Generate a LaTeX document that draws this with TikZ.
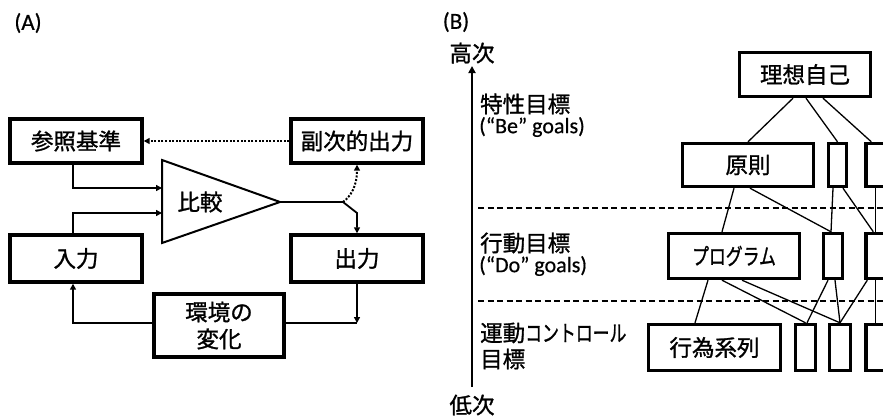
\documentclass[tikz,border=0pt]{standalone}
\usepackage{fontspec}
\setmainfont{Carlito}[AutoFakeBold=0.6]
\newfontfamily\jp{Noto Sans CJK JP}[AutoFakeBold=1.2]
\newcommand\narrowkana[1]{\scalebox{0.75}[1]{#1}}
\usetikzlibrary{arrows.meta,calc}
\begin{document}
\begin{tikzpicture}[x=1pt,y=-1pt,
  box/.style={draw, line width=3.4pt, rectangle, inner sep=0pt, align=center,
    font=\jp\bfseries\fontsize{22.5}{27}\selectfont},
  conn/.style={line width=1.8pt},
  tipA/.style={-{Triangle[length=6pt,width=6pt]}},
  dotline/.style={line width=2pt, dash pattern=on 2pt off 1.6pt},
  thinl/.style={line width=1.3pt},
  dashl/.style={line width=1.3pt, dash pattern=on 6pt off 3.5pt},
  jlbl/.style={font=\jp\bfseries\fontsize{22.5}{25}\selectfont, inner sep=0pt},
  llbl/.style={font=\bfseries\fontsize{22}{25}\selectfont, inner sep=0pt},
  ]
\useasboundingbox (0,0) rectangle (883,415);
\clip (0,0) rectangle (883,415);

% ---------- Panel A ----------
\node[llbl, font=\bfseries\fontsize{23}{25}\selectfont] (la) at (28,23) {(A)};
\node[box, minimum width=132pt, minimum height=44pt] (ref) at (76,141) {参照基準};
\node[box, minimum width=132pt, minimum height=44pt] (sub) at (357,141) {副次的出力};
\node[box, minimum width=132pt, minimum height=47pt] (inp) at (76,258.5) {入力};
\node[box, minimum width=132pt, minimum height=47pt] (out) at (357,258.5) {出力};
\node[box, minimum width=130pt, minimum height=63pt] (env) at (219,325.5) {環境の\\変化};

\draw[line width=2pt, line join=miter] (162,160) coordinate (tl) -- (280,202) coordinate (tip)
  -- (162,243) coordinate (bl) -- cycle;
\node[jlbl] (cmp) at (200,202) {比較};

\coordinate (in1) at (162,188);
\coordinate (in2) at (162,213);
\coordinate (br) at (343,202);
\coordinate (bend) at (357,213);
\coordinate (j) at (357,323);

\draw[conn,tipA] ([xshift=-3pt]ref.south) |- (in1);
\draw[conn,tipA] ([xshift=-3pt]inp.north) |- (in2);
\draw[conn,tipA] (tip) -- (br) -- (bend) -- (out.north);
\draw[dotline,tipA] (br) .. controls (351,196) and (357,186) .. (sub.south);
\draw[dotline,tipA] (sub.west) -- (ref.east);
\draw[conn,tipA] (out.south) -- (j);
\draw[conn] (env.east |- j) -- (j);
\draw[conn,tipA] (env.west |- j) -| ([xshift=-3pt]inp.south);

% ---------- Panel B ----------
\node[llbl, font=\bfseries\fontsize{23}{25}\selectfont] (lb) at (456,22) {(B)};
\node[jlbl] (hi) at (472,53) {高次};
\node[jlbl] (lo) at (472,405) {低次};
\coordinate (axbot) at (472,387);
\coordinate (axtop) at (472,66);
\draw[line width=2.5pt,-{Triangle[length=7pt,width=7pt]}] (axbot) -- (axtop);

\node[jlbl, anchor=west] (t1) at (480,104) {特性目標};
\node[llbl, anchor=west] (t1e) at (479,127) {(“Be” goals)};
\node[jlbl, anchor=west] (t2) at (480,243) {行動目標};
\node[llbl, anchor=west] (t2e) at (479,266) {(“Do” goals)};
\node[jlbl, anchor=west] (t3) at (480,333) {運動\narrowkana{コントロール}};
\node[jlbl, anchor=west] (t3b) at (480,359) {目標};

\coordinate (d1a) at (478,208); \coordinate (d1b) at (883,208);
\coordinate (d2a) at (478,301); \coordinate (d2b) at (883,301);
\draw[dashl] (d1a) -- (d1b);
\draw[dashl] (d2a) -- (d2b);

\node[box, minimum width=131pt, minimum height=44pt] (ideal) at (805,74.5) {理想自己};
\node[box, minimum width=131pt, minimum height=43pt] (L1) at (748,165) {原則};
\node[box, minimum width=18pt, minimum height=43pt] (L1b) at (837.5,165) {};
\node[box, minimum width=70pt, minimum height=43pt] (L1c) at (901,165) {};
\node[box, minimum width=131pt, minimum height=45pt] (L2) at (734,256) {\narrowkana{プログラム}};
\node[box, minimum width=19pt, minimum height=45pt] (L2b) at (833,256) {};
\node[box, minimum width=70pt, minimum height=45pt] (L2c) at (901,256) {};
\node[box, minimum width=132pt, minimum height=46pt] (L3) at (714.5,347.5) {行為系列};
\node[box, minimum width=20pt, minimum height=46pt] (L3b) at (805.5,347.5) {};
\node[box, minimum width=21pt, minimum height=46pt] (L3c) at (840,347.5) {};
\node[box, minimum width=70pt, minimum height=46pt] (L3d) at (901,347.5) {};

% level 0 -> 1
\draw[thinl] ([xshift=-12pt]ideal.south) -- (L1.north);
\draw[thinl] ([xshift=1pt]ideal.south) -- (L1b.north);
\draw[thinl] ([xshift=18pt]ideal.south) -- ([xshift=7pt]L1c.north west);
% level 1 -> 2
\draw[thinl] ([xshift=-14pt]L1.south) -- ([xshift=-12pt]L2.north);
\draw[thinl] ([xshift=2pt]L1.south) -- ([xshift=-2pt]L2b.north);
\draw[thinl] ([xshift=-4.5pt]L1b.south) -- ([xshift=-2pt]L2b.north);
\draw[thinl] ([xshift=5.5pt]L1b.south) -- ([xshift=9pt]L2c.north west);
\draw[thinl] ([xshift=11pt]L1c.south west) -- ([xshift=11pt]L2c.north west);
% level 2 -> 3
\draw[thinl] ([xshift=-26pt]L2.south) -- ([xshift=-19.5pt]L3.north);
\draw[thinl] ([xshift=-12pt]L2.south) -- (L3b.north);
\draw[thinl] ([xshift=8pt]L2.south) -- (L3c.north);
\draw[thinl] ([xshift=-5pt]L2b.south) -- ([xshift=1.5pt]L3b.north);
\draw[thinl] ([xshift=2pt]L2b.south) -- (L3c.north);
\draw[thinl] ([xshift=3pt]L2c.south west) -- (L3c.north);
\draw[thinl] ([xshift=11pt]L2c.south west) -- ([xshift=11pt]L3d.north west);
\end{tikzpicture}
\end{document}
